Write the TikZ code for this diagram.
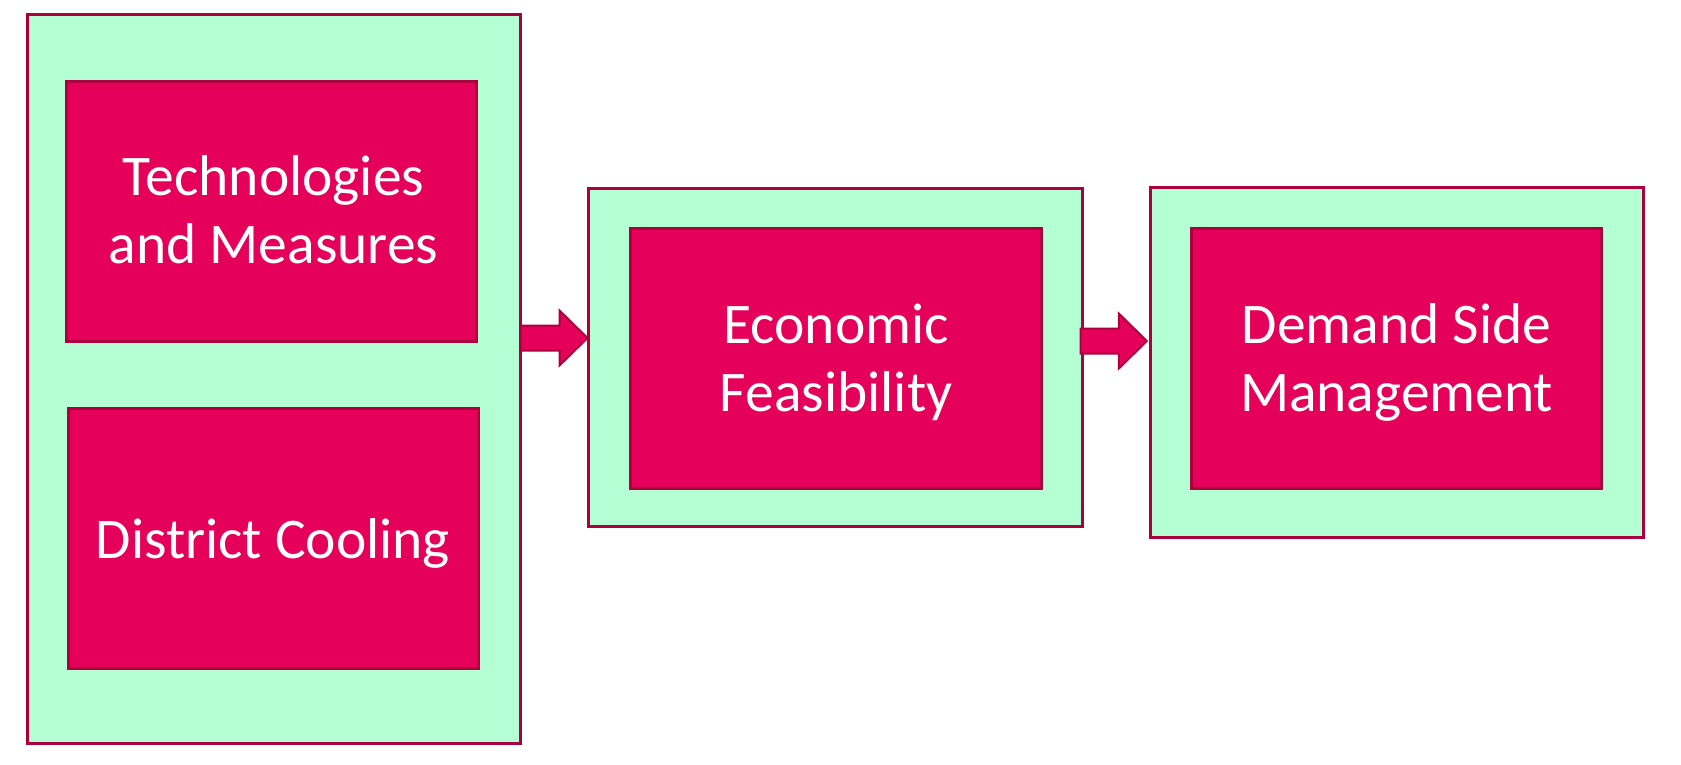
\documentclass[tikz,border=0pt]{standalone}
\usepackage{fontspec}
\setmainfont{Carlito}
\usetikzlibrary{calc}
\definecolor{mint}{RGB}{181,255,213}
\definecolor{rose}{RGB}{229,0,90}
\definecolor{edge}{RGB}{172,0,62}
\tikzset{
  outerbox/.style={draw=edge, fill=mint, line width=3pt, rectangle, inner sep=0pt, outer sep=0pt, anchor=north west},
  innerbox/.style={draw=edge, fill=rose, line width=3pt, rectangle, inner sep=0pt, outer sep=0pt, anchor=north west},
  boxtext/.style={text=white, align=center, inner sep=0pt, font=\fontsize{57.5}{68}\selectfont},
  barrow/.style={draw=edge, fill=rose, line width=2pt, line join=miter}
}
\newcommand\blockarrow[2]{%
  \draw[barrow] let \p1=(#1), \p2=(#2) in
    (\x1,\y1+12.5) -- (\x2-28,\y1+12.5) -- (\x2-28,\y1+27.5) -- (\x2,\y1)
    -- (\x2-28,\y1-27.5) -- (\x2-28,\y1-12.5) -- (\x1,\y1-12.5) -- cycle;}
\begin{document}
\begin{tikzpicture}[x=1pt,y=-1pt]
\useasboundingbox (0,0) rectangle (1681,764);
% outer panels
\node[outerbox, minimum width=493, minimum height=729] (L) at (27.5,14.7) {};
\node[outerbox, minimum width=494, minimum height=338] (M) at (588.5,188.5) {};
\node[outerbox, minimum width=493, minimum height=350] (R) at (1150.8,187.5) {};
% inner boxes
\node[innerbox, minimum width=410, minimum height=260] (TM) at (66.5,81.5) {};
\node[innerbox, minimum width=410, minimum height=260] (DC) at (68,408.5) {};
\node[innerbox, minimum width=411, minimum height=260] (EF) at (630.7,228) {};
\node[innerbox, minimum width=410, minimum height=260] (DSM) at (1191.6,228) {};
% texts
\node[boxtext] (tTM) at ($(TM.center)+(2,-2)$) {Technologies\\and Measures};
\node[boxtext] (tDC) at ($(DC.center)+(0,5)$) {District Cooling};
\node[boxtext] (tEF) at ($(EF.center)+(0,4)$) {Economic\\Feasibility};
\node[boxtext] (tDSM) at ($(DSM.center)+(0,4)$) {Demand Side\\Management};
% arrows
\coordinate (a1s) at (L.east |- 0,338);
\coordinate (a1e) at ($(M.west |- 0,338)+(-1,0)$);
\coordinate (a2s) at ($(M.east |- 0,341)+(-2,0)$);
\coordinate (a2e) at ($(R.west |- 0,341)+(-4,0)$);
\blockarrow{a1s}{a1e}
\blockarrow{a2s}{a2e}
\end{tikzpicture}
\end{document}
